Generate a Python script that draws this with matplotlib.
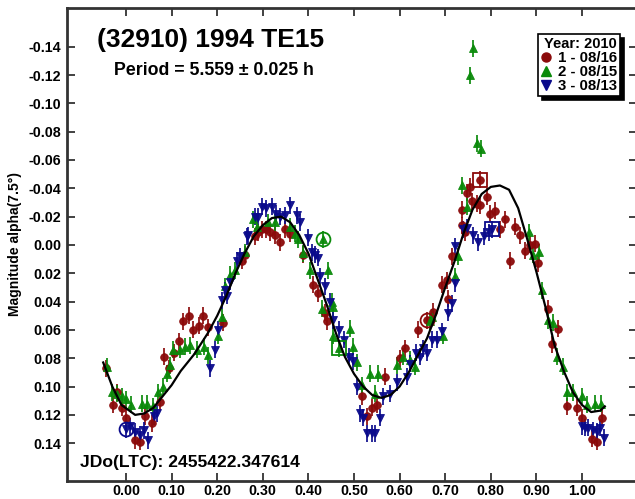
import matplotlib
matplotlib.use("Agg")
import matplotlib.pyplot as plt
from matplotlib.lines import Line2D

plt.rcParams["font.family"] = ["Liberation Sans", "DejaVu Sans"]
plt.rcParams["font.weight"] = "bold"

# Session 1 - 08/16 (phase, reduced magnitude)
s1_phase = [-0.044, -0.028, -0.020, -0.009, 0.000, 0.020, 0.031, 0.042, 0.056, 0.075,
            0.084, 0.095, 0.105, 0.117, 0.126, 0.139, 0.148, 0.159, 0.168, 0.180,
            0.212, 0.254, 0.261, 0.283, 0.290, 0.298, 0.307, 0.316, 0.327, 0.338,
            0.349, 0.360, 0.389, 0.411, 0.422, 0.436, 0.440, 0.517, 0.528, 0.539,
            0.551, 0.568, 0.601, 0.612, 0.641, 0.659, 0.674, 0.692, 0.703, 0.707,
            0.714, 0.736, 0.743, 0.736, 0.747, 0.754, 0.758, 0.769, 0.776, 0.776,
            0.791, 0.798, 0.809, 0.820, 0.831, 0.842, 0.853, 0.864, 0.875, 0.886,
            0.897, 0.904, 0.926, 0.934, 0.948, 0.966, 0.988, 0.999, 1.021, 1.032,
            1.043]
s1_mag = [0.087, 0.113, 0.104, 0.115, 0.122, 0.138, 0.139, 0.121, 0.126, 0.111,
          0.079, 0.087, 0.076, 0.068, 0.054, 0.050, 0.060, 0.057, 0.050, 0.058,
          0.055, 0.011, 0.007, -0.006, -0.009, -0.011, -0.011, -0.009, -0.007, -0.002,
          -0.011, -0.008, 0.007, 0.028, 0.034, 0.048, 0.054, 0.107, 0.121, 0.115,
          0.113, 0.093, 0.080, 0.073, 0.060, 0.053, 0.047, 0.028, 0.025, 0.038,
          0.008, -0.014, -0.009, -0.025, -0.037, -0.041, -0.031, -0.029, -0.046, -0.028,
          -0.034, -0.022, -0.024, -0.011, -0.018, 0.011, -0.013, -0.007, 0.004, 0.000,
          -0.001, 0.013, 0.045, 0.070, 0.059, 0.114, 0.115, 0.122, 0.137, 0.139,
          0.122]

# Session 2 - 08/15
s2_phase = [-0.042, -0.031, -0.020, -0.009, 0.001, 0.012, 0.034, 0.045, 0.060, 0.071,
            0.082, 0.089, 0.096, 0.104, 0.118, 0.129, 0.140, 0.155, 0.170, 0.180,
            0.202, 0.210, 0.217, 0.228, 0.239, 0.261, 0.279, 0.287, 0.312, 0.327,
            0.360, 0.371, 0.378, 0.389, 0.404, 0.433, 0.444, 0.429, 0.451, 0.455,
            0.455, 0.466, 0.491, 0.497, 0.506, 0.517, 0.535, 0.546, 0.553, 0.594,
            0.608, 0.623, 0.634, 0.667, 0.670, 0.696, 0.722, 0.729, 0.736, 0.747,
            0.754, 0.762, 0.769, 0.778, 0.884, 0.893, 0.906, 0.912, 0.926, 0.937,
            0.945, 0.959, 0.966, 0.981, 0.999, 1.010, 1.029, 1.042]
s2_mag = [0.086, 0.104, 0.105, 0.107, 0.109, 0.113, 0.112, 0.112, 0.114, 0.104,
          0.100, 0.091, 0.085, 0.074, 0.074, 0.072, 0.071, 0.074, 0.072, 0.078,
          0.064, 0.051, 0.029, 0.021, 0.018, 0.005, -0.018, -0.013, -0.016, -0.016,
          -0.013, -0.008, -0.004, 0.006, 0.018, -0.004, 0.018, 0.045, 0.040, 0.044,
          0.064, 0.073, 0.059, 0.072, 0.083, 0.099, 0.091, 0.105, 0.091, 0.085,
          0.079, 0.081, 0.086, 0.054, 0.051, 0.064, 0.022, 0.008, -0.042, -0.027,
          -0.120, -0.139, -0.072, -0.068, -0.009, 0.007, 0.005, 0.032, 0.053, 0.055,
          0.079, 0.086, 0.104, 0.104, 0.107, 0.113, 0.112, 0.112]

# Session 3 - 08/13
s3_phase = [0.000, 0.009, 0.020, 0.031, 0.039, 0.049, 0.061, 0.067, 0.184, 0.195,
            0.202, 0.210, 0.217, 0.221, 0.228, 0.243, 0.250, 0.265, 0.268, 0.283,
            0.290, 0.298, 0.308, 0.320, 0.330, 0.338, 0.349, 0.360, 0.374, 0.382,
            0.400, 0.407, 0.414, 0.422, 0.425, 0.436, 0.447, 0.455, 0.466, 0.477,
            0.488, 0.498, 0.506, 0.513, 0.520, 0.528, 0.539, 0.546, 0.556, 0.564,
            0.579, 0.594, 0.616, 0.623, 0.637, 0.645, 0.652, 0.659, 0.670, 0.681,
            0.692, 0.707, 0.714, 0.722, 0.722, 0.740, 0.747, 0.762, 0.773, 0.784,
            0.795, 0.802, 0.999, 1.007, 1.014, 1.025, 1.032, 1.039, 1.048]
s3_mag = [0.130, 0.128, 0.132, 0.134, 0.131, 0.138, 0.121, 0.119, 0.087, 0.074,
          0.060, 0.039, 0.032, 0.036, 0.026, 0.011, 0.008, -0.006, -0.007, -0.020,
          -0.020, -0.027, -0.026, -0.027, -0.022, -0.020, -0.021, -0.028, -0.021, -0.016,
          -0.005, 0.005, 0.007, 0.009, 0.022, 0.029, 0.040, 0.053, 0.060, 0.067,
          0.079, 0.082, 0.100, 0.119, 0.122, 0.133, 0.133, 0.133, 0.122, 0.107,
          0.105, 0.097, 0.093, 0.084, 0.076, 0.079, 0.073, 0.076, 0.067, 0.067,
          0.061, 0.048, 0.041, 0.027, 0.001, -0.011, -0.012, -0.007, -0.002, -0.006,
          -0.009, -0.011, 0.128, 0.129, 0.129, 0.131, 0.132, 0.129, 0.136]

# First (ring) and last (square) point of each session
s1_first, s1_last = (0.659, 0.053), (0.776, -0.046)
s2_first, s2_last = (0.433, -0.004), (0.466, 0.073)
s3_first, s3_last = (0.000, 0.130), (0.802, -0.011)

# Fourier fit curve
fit_phase = [-0.05, -0.03, -0.01, 0.02, 0.04, 0.06, 0.08, 0.10, 0.12, 0.15,
             0.18, 0.20, 0.22, 0.24, 0.26, 0.28, 0.30, 0.32, 0.34, 0.36,
             0.38, 0.40, 0.42, 0.44, 0.46, 0.48, 0.50, 0.52, 0.54, 0.56,
             0.58, 0.60, 0.62, 0.64, 0.66, 0.68, 0.70, 0.72, 0.74, 0.76,
             0.78, 0.80, 0.82, 0.84, 0.86, 0.88, 0.90, 0.92, 0.94, 0.96,
             0.98, 1.00, 1.02, 1.04, 1.05]
fit_mag = [0.083, 0.100, 0.113, 0.120, 0.119, 0.115, 0.107, 0.099, 0.089, 0.077,
           0.062, 0.050, 0.036, 0.020, 0.006, -0.006, -0.014, -0.019, -0.020, -0.016,
           -0.007, 0.006, 0.024, 0.042, 0.062, 0.079, 0.091, 0.100, 0.106, 0.108,
           0.106, 0.100, 0.090, 0.078, 0.066, 0.049, 0.030, 0.012, -0.008, -0.025,
           -0.036, -0.041, -0.042, -0.039, -0.026, -0.004, 0.019, 0.044, 0.071, 0.089,
           0.104, 0.113, 0.118, 0.117, 0.114]

mag_err = 0.006
session_labels = ["1 - 08/16", "2 - 08/15", "3 - 08/13"]
colors = ["#8b0a0a", "#0a8a0a", "#0a0a8b"]
markers = ["o", "^", "v"]

fig = plt.figure(figsize=(6.35, 4.99), dpi=100)
ax = fig.add_axes([67 / 635, 18 / 499, (637 - 67) / 635, (481 - 7.5) / 499])

sessions = [(s1_phase, s1_mag), (s2_phase, s2_mag), (s3_phase, s3_mag)]
for (ph, mg), col, mk in zip(sessions, colors, markers):
    ax.errorbar(ph, mg, yerr=mag_err, fmt=mk, color=col, ms=5.5,
                mec=col, mew=0.6, ecolor=col, elinewidth=1.3, capsize=0,
                alpha=0.95, zorder=3)

for pt, col in zip([s1_first, s2_first, s3_first], colors):
    ax.plot(pt[0], pt[1], "o", ms=10, mfc="none", mec=col, mew=1.3, zorder=4)
for pt, col in zip([s1_last, s2_last, s3_last], colors):
    ax.plot(pt[0], pt[1], "s", ms=10, mfc="none", mec=col, mew=1.3, zorder=4)

ax.plot(fit_phase, fit_mag, color="black", lw=1.6, zorder=5)

ax.set_xlim(-0.1294, 1.1206)
ax.set_ylim(0.1667, -0.1677)
ax.set_xticks([i / 10 for i in range(11)])
ax.set_xticklabels([f"{i / 10:.2f}" for i in range(11)])
yt = [i / 100 for i in range(-14, 15, 2)]
ax.set_yticks(yt)
ax.set_yticklabels([f"{v:.2f}" for v in yt])
ax.tick_params(direction="in", length=6, width=1.3, color="#333333",
               labelsize=10.3, top=True, right=True)
ax.tick_params(axis="x", pad=2)
ax.tick_params(axis="y", pad=4)
for lab in ax.get_xticklabels() + ax.get_yticklabels():
    lab.set_fontweight("bold")
for sp in ax.spines.values():
    sp.set_linewidth(2)
    sp.set_color("#333333")

ax.set_ylabel("Magnitude alpha(7.5°)", fontsize=10, fontweight="bold", labelpad=5)

ax.text(0.053, 0.931, "(32910) 1994 TE15", transform=ax.transAxes,
        fontsize=19, fontweight="bold", va="center", ha="left")
ax.text(0.083, 0.868, "Period = 5.559 ± 0.025 h", transform=ax.transAxes,
        fontsize=12.8, fontweight="bold", va="center", ha="left")
ax.text(0.023, 0.040, "JDo(LTC): 2455422.347614", transform=ax.transAxes,
        fontsize=12.6, fontweight="bold", va="center", ha="left")

handles = [Line2D([], [], ls="none", marker=mk, color=col, ms=6.5)
           for col, mk in zip(colors, markers)]
leg = ax.legend(handles, session_labels, title="Year: 2010", loc="upper left",
                bbox_to_anchor=(0.826, 0.944), frameon=True, fancybox=False,
                edgecolor="black", framealpha=1, borderpad=0.2,
                labelspacing=0.0, handlelength=0.7, handletextpad=0.45,
                borderaxespad=0, alignment="right",
                prop={"weight": "bold", "size": 10.8},
                title_fontproperties={"weight": "bold", "size": 10.5},
                shadow={"color": "black", "alpha": 1, "ox": 3, "oy": -3})
leg.get_frame().set_linewidth(1.2)

fig.savefig("out.png", dpi=100)
